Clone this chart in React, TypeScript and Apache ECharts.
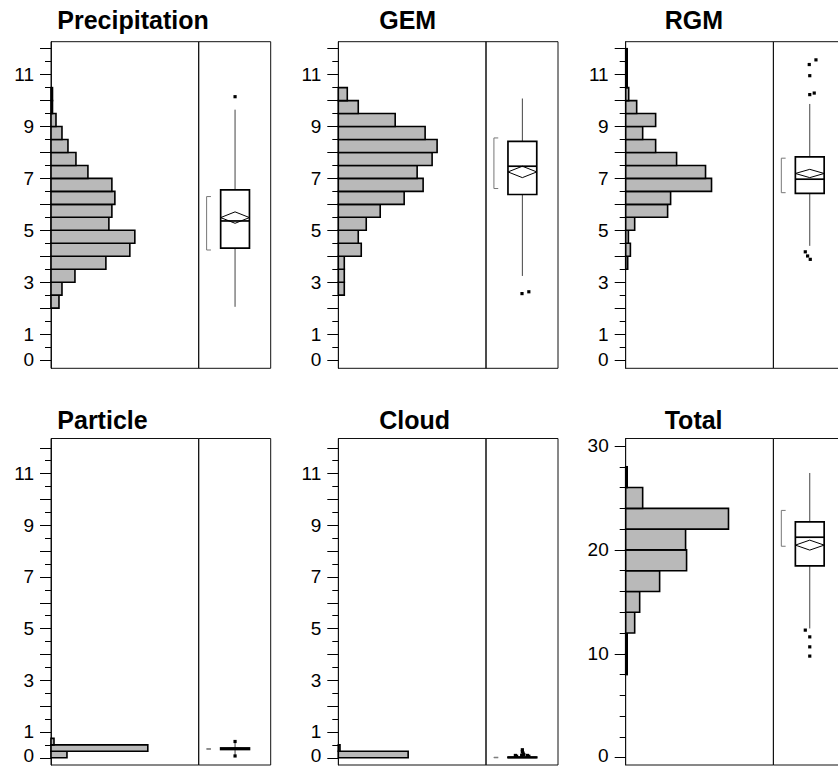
import React, { useEffect, useRef } from "react";
import * as echarts from "echarts";

// ---------- tick lists ----------
const unitMajorTicks = [0, 1, 2, 3, 4, 5, 6, 7, 8, 9, 10, 11, 12];
const unitMinorTicks = [0.5, 1.5, 2.5, 3.5, 4.5, 5.5, 6.5, 7.5, 8.5, 9.5, 10.5, 11.5];
const unitLabels = [0, 1, 3, 5, 7, 9, 11];
const totalMajorTicks = [0, 10, 20, 30];
const totalMinorTicks = [2, 4, 6, 8, 12, 14, 16, 18, 22, 24, 26, 28];
const totalLabels = [0, 10, 20, 30];

// ---------- titles ----------
const titles = ["Precipitation", "GEM", "RGM", "Particle", "Cloud", "Total"];

// ---------- histogram counts (bins from low to high) ----------
const precipBinStart = 2.0;
const precipBinWidth = 0.5;
const precipCounts = [8, 11, 24, 55, 79, 84, 58, 61, 64, 61, 37, 25, 17, 11, 5, 1.5, 1.5];

const gemBinStart = 2.5;
const gemBinWidth = 0.5;
const gemCounts = [6, 6, 6, 23, 20, 28, 42, 66, 85, 79, 94, 99, 87, 57, 20, 9];

const rgmBinStart = 3.5;
const rgmBinWidth = 0.5;
const rgmCounts = [2, 4.7, 2.7, 9, 42, 45, 86, 80, 51, 30, 17, 30, 11, 3, 1.5, 1.5, 1.5];

const particleBinStart = 0;
const particleBinWidth = 0.25;
const particleCounts = [16, 97, 3];

const cloudBinStart = 0;
const cloudBinWidth = 0.25;
const cloudCounts = [70, 1.7];

const totalBinStart = 8;
const totalBinWidth = 2;
const totalCounts = [1.5, 1.5, 9, 14, 34, 61, 60, 103, 17, 1.5];

// ---------- box plot stats: [whiskerLow, Q1, median, Q3, whiskerHigh] ----------
const precipBox = [2.05, 4.31, 5.36, 6.56, 9.65];
const precipMean = [5.49, 0.22];
const precipShortest = [4.24, 6.3];
const precipOutliers = [[0, 10.15]];

const gemBox = [3.24, 6.38, 7.47, 8.43, 10.08];
const gemMean = [7.25, 0.22];
const gemShortest = [6.61, 8.56];
const gemOutliers = [[-0.005, 2.56], [0.09, 2.63]];

const rgmBox = [4.4, 6.42, 6.97, 7.83, 9.87];
const rgmMean = [7.19, 0.16];
const rgmShortest = [6.45, 7.78];
const rgmOutliers = [
  [-0.007, 11.39], [0.086, 11.57], [0, 10.96], [0, 10.23], [0.062, 10.29],
  [-0.062, 4.17], [-0.03, 4.01], [0.007, 3.88],
];

const particleBox = [0.1, 0.32, 0.35, 0.38, 0.58];
const particleMean = [0.35, 0.02];
const particleShortest = [0.33, 0.35];
const particleOutliers = [[0, 0.63], [0, 0.07]];

const cloudBox = [0, 0, 0.01, 0.03, 0.05];
const cloudMean = [0.02, 0.01];
const cloudShortest = [0.0, 0.02];
const cloudOutliers = [
  [-0.097, 0.09], [-0.08, 0.06], [0, 0.31], [0, 0.24], [0.01, 0.18],
  [0.02, 0.12], [-0.01, 0.1], [0.07, 0.09], [0.09, 0.06],
];

const totalBox = [12.44, 18.46, 21.22, 22.69, 27.4];
const totalMean = [20.46, 0.48];
const totalShortest = [20.35, 23.8];
const totalOutliers = [[-0.062, 12.28], [0, 11.63], [0, 10.67], [0, 9.78]];

// ---------- layout ----------
const HIST_W = 147.7;
const BOX_W = 72;
const HIST_MAX = 148;
const BOX_CENTER = 0.505;
const BOX_HALF = 0.2;
const BRACKET_X = 0.11;
const BRACKET_TICK = 0.17;
const FONT = '"Liberation Sans", Arial, Helvetica, sans-serif';

type PanelDef = {
  title: string;
  titleX: number;
  titleY: number;
  left: number;
  top: number;
  height: number;
  min: number;
  max: number;
  binStart: number;
  binWidth: number;
  counts: number[];
  box: number[];
  mean: number[];
  shortest: number[];
  outliers: number[][];
  majorTicks: number[];
  minorTicks: number[];
  labels: number[];
  liftZero: boolean;
};

const colLeft = [51, 338.3, 625.7];
const titleLeft = [57.3, 379.2, 664.7];

const panels: PanelDef[] = [
  { title: titles[0], titleX: titleLeft[0], titleY: 19.5, left: colLeft[0], top: 41.7, height: 326.6, min: -0.32, max: 12.27,
    binStart: precipBinStart, binWidth: precipBinWidth, counts: precipCounts, box: precipBox, mean: precipMean, shortest: precipShortest, outliers: precipOutliers,
    majorTicks: unitMajorTicks, minorTicks: unitMinorTicks, labels: unitLabels, liftZero: false },
  { title: titles[1], titleX: titleLeft[1], titleY: 19.5, left: colLeft[1], top: 41.7, height: 326.6, min: -0.32, max: 12.27,
    binStart: gemBinStart, binWidth: gemBinWidth, counts: gemCounts, box: gemBox, mean: gemMean, shortest: gemShortest, outliers: gemOutliers,
    majorTicks: unitMajorTicks, minorTicks: unitMinorTicks, labels: unitLabels, liftZero: false },
  { title: titles[2], titleX: titleLeft[2], titleY: 19.5, left: colLeft[2], top: 41.7, height: 326.6, min: -0.32, max: 12.27,
    binStart: rgmBinStart, binWidth: rgmBinWidth, counts: rgmCounts, box: rgmBox, mean: rgmMean, shortest: rgmShortest, outliers: rgmOutliers,
    majorTicks: unitMajorTicks, minorTicks: unitMinorTicks, labels: unitLabels, liftZero: false },
  { title: titles[3], titleX: titleLeft[0], titleY: 420, left: colLeft[0], top: 438.5, height: 326.5, min: -0.28, max: 12.36,
    binStart: particleBinStart, binWidth: particleBinWidth, counts: particleCounts, box: particleBox, mean: particleMean, shortest: particleShortest, outliers: particleOutliers,
    majorTicks: unitMajorTicks, minorTicks: unitMinorTicks, labels: unitLabels, liftZero: true },
  { title: titles[4], titleX: titleLeft[1], titleY: 420, left: colLeft[1], top: 438.5, height: 326.5, min: -0.28, max: 12.36,
    binStart: cloudBinStart, binWidth: cloudBinWidth, counts: cloudCounts, box: cloudBox, mean: cloudMean, shortest: cloudShortest, outliers: cloudOutliers,
    majorTicks: unitMajorTicks, minorTicks: unitMinorTicks, labels: unitLabels, liftZero: true },
  { title: titles[5], titleX: titleLeft[2], titleY: 420, left: colLeft[2], top: 438.5, height: 326.5, min: -0.7, max: 30.72,
    binStart: totalBinStart, binWidth: totalBinWidth, counts: totalCounts, box: totalBox, mean: totalMean, shortest: totalShortest, outliers: totalOutliers,
    majorTicks: totalMajorTicks, minorTicks: totalMinorTicks, labels: totalLabels, liftZero: true },
];

function buildOption() {
  const grid: any[] = [];
  const xAxis: any[] = [];
  const yAxis: any[] = [];
  const series: any[] = [];
  const graphic: any[] = [];

  panels.forEach((p, i) => {
    const gHist = 2 * i;
    const gBox = 2 * i + 1;
    const frame = { show: true, borderColor: "#111", borderWidth: 1, backgroundColor: "transparent", containLabel: false, outerBoundsMode: "none" };
    grid.push({ ...frame, left: p.left, top: p.top, width: HIST_W, height: p.height });
    grid.push({ ...frame, left: p.left + HIST_W, top: p.top, width: BOX_W, height: p.height });

    xAxis.push({ gridIndex: gHist, type: "value", min: 0, max: HIST_MAX, show: false });
    xAxis.push({ gridIndex: gBox, type: "value", min: 0, max: 1, show: false });

    const yHist = 3 * i;
    const yBox = 3 * i + 2;
    yAxis.push({
      gridIndex: gHist, type: "value", position: "left", min: p.min, max: p.max,
      axisLine: { show: true, lineStyle: { color: "#111", width: 1 } },
      axisTick: { show: true, length: 11, customValues: p.majorTicks, lineStyle: { color: "#000", width: 1 } },
      axisLabel: {
        show: true, customValues: p.labels, margin: 17, color: "#000", fontSize: 19, fontFamily: FONT,
        formatter: (v: number) => (p.liftZero && v === 0 ? "{z|0}" : String(v)),
        rich: {
          z: { fontSize: 19, fontFamily: FONT, color: "#000", padding: [0, 0, 5, 0] },
        },
      },
      splitLine: { show: false },
    });
    yAxis.push({
      gridIndex: gHist, type: "value", position: "left", offset: 0, min: p.min, max: p.max,
      axisLine: { show: false },
      axisTick: { show: true, length: 6, customValues: p.minorTicks, lineStyle: { color: "#000", width: 1 } },
      axisLabel: { show: false },
      splitLine: { show: false },
    });
    yAxis.push({ gridIndex: gBox, type: "value", min: p.min, max: p.max, show: false, splitLine: { show: false } });

    series.push({
      type: "custom",
      xAxisIndex: gHist,
      yAxisIndex: yHist,
      clip: false,
      dimensions: ["lo", "hi", "count"],
      encode: { x: 2, y: [0, 1] },
      data: p.counts.map((c, k) => [p.binStart + k * p.binWidth, p.binStart + (k + 1) * p.binWidth, c]),
      renderItem: (_params: any, api: any) => {
        const lo = api.value(0);
        const hi = api.value(1);
        const n = api.value(2);
        const p0 = api.coord([0, lo]);
        const p1 = api.coord([n, hi]);
        return {
          type: "rect",
          shape: { x: p0[0], y: p1[1], width: p1[0] - p0[0], height: p0[1] - p1[1] },
          style: { fill: "#b9b9b9", stroke: "#000", lineWidth: 1.6 },
        };
      },
    });

    series.push({
      type: "custom",
      xAxisIndex: gBox,
      yAxisIndex: yBox,
      clip: false,
      dimensions: ["wl", "q1", "med", "q3", "wh", "mean", "half", "sl", "sh"],
      encode: { y: [0, 4] },
      data: [[...p.box, ...p.mean, ...p.shortest]],
      renderItem: (_params: any, api: any) => {
        const wl = api.value(0), q1 = api.value(1), med = api.value(2), q3 = api.value(3), wh = api.value(4);
        const mean = api.value(5), half = api.value(6), sl = api.value(7), sh = api.value(8);
        const c = (x: number, y: number) => api.coord([x, y]);
        const L = BOX_CENTER - BOX_HALF;
        const R = BOX_CENTER + BOX_HALF;
        const tl = c(L, q3);
        const br = c(R, q1);
        const whisk = { stroke: "#444", lineWidth: 1 };
        const top0 = c(BOX_CENTER, q3), top1 = c(BOX_CENTER, wh);
        const bot0 = c(BOX_CENTER, q1), bot1 = c(BOX_CENTER, wl);
        const m0 = c(L, med), m1 = c(R, med);
        const d = [c(L, mean), c(BOX_CENTER, mean + half), c(R, mean), c(BOX_CENTER, mean - half)];
        const b = [c(BRACKET_TICK, sh), c(BRACKET_X, sh), c(BRACKET_X, sl), c(BRACKET_TICK, sl)];
        return {
          type: "group",
          children: [
            { type: "line", shape: { x1: top0[0], y1: top0[1], x2: top1[0], y2: top1[1] }, style: whisk },
            { type: "line", shape: { x1: bot0[0], y1: bot0[1], x2: bot1[0], y2: bot1[1] }, style: whisk },
            { type: "rect", shape: { x: tl[0], y: tl[1], width: br[0] - tl[0], height: br[1] - tl[1] }, style: { fill: "#fff", stroke: "#000", lineWidth: 1.7 } },
            { type: "line", shape: { x1: m0[0], y1: m0[1], x2: m1[0], y2: m1[1] }, style: { stroke: "#000", lineWidth: 1.7 } },
            { type: "polygon", shape: { points: d }, style: { fill: "none", stroke: "#000", lineWidth: 1 } },
            { type: "polyline", shape: { points: b }, style: { fill: "none", stroke: "#777", lineWidth: 1 } },
          ],
        };
      },
    });

    series.push({
      type: "scatter",
      xAxisIndex: gBox,
      yAxisIndex: yBox,
      symbol: "rect",
      symbolSize: [3.2, 3.2],
      itemStyle: { color: "#000", opacity: 1 },
      clip: false,
      data: p.outliers.map(([j, v]) => [BOX_CENTER + j, v]),
    });

    graphic.push({
      type: "text",
      x: p.titleX,
      y: p.titleY,
      style: {
        text: p.title,
        font: `bold 25px ${FONT}`,
        fill: "#000",
        textAlign: "left",
        textVerticalAlign: "middle",
      },
    });
  });

  return {
    animation: false,
    backgroundColor: "#fff",
    grid,
    xAxis,
    yAxis,
    series,
    graphic,
  };
}

export default function App() {
  const ref = useRef<HTMLDivElement | null>(null);
  useEffect(() => {
    if (!ref.current) return;
    const chart = echarts.init(ref.current, undefined, { renderer: "svg" });
    chart.setOption(buildOption() as any);
    return () => chart.dispose();
  }, []);
  return (
    <div
      ref={ref}
      style={{ position: "fixed", left: 0, top: 0, width: 838, height: 766, background: "#fff" }}
    />
  );
}
